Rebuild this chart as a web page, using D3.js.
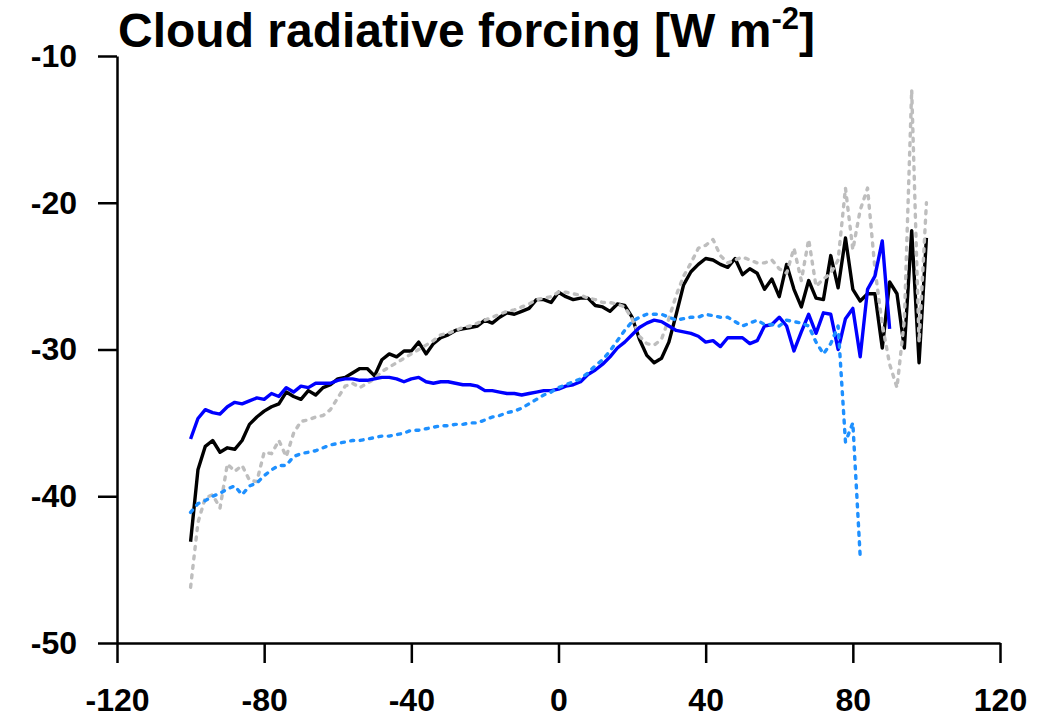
<!DOCTYPE html>
<html>
<head>
<meta charset="utf-8">
<script src="https://cdn.jsdelivr.net/npm/d3@7"></script>
<style>
  html, body { margin: 0; padding: 0; background: #fff; }
  svg { display: block; }
</style>
</head>
<body>
<svg id="chart" width="1045" height="717"></svg>
<script>
// ---- data ----
const xTicks = [-120, -80, -40, 0, 40, 80, 120];
const yTicks = [-50, -40, -30, -20, -10];

const latAll = d3.range(-100, 101, 2);          // -100 .. 100 step 2

const blackVals = [
  -43.1, -38.2, -36.6, -36.2, -37.0, -36.7, -36.8, -36.2, -35.1, -34.6,
  -34.2, -33.9, -33.7, -32.9, -33.2, -33.4, -32.8, -33.1, -32.6, -32.4,
  -32.0, -31.9, -31.6, -31.3, -31.3, -31.8, -30.7, -30.3, -30.5, -30.1,
  -30.1, -29.5, -30.3, -29.6, -29.2, -29.0, -28.7, -28.6, -28.5, -28.4,
  -28.0, -28.2, -27.8, -27.5, -27.6, -27.4, -27.2, -26.6, -26.6, -26.8,
  -26.1, -26.4, -26.6, -26.5, -26.5, -27.0, -27.1, -27.4, -26.9, -27.0,
  -27.8, -29.3, -30.4, -30.9, -30.6, -29.5, -27.6, -25.6, -24.7, -24.2,
  -23.8, -23.9, -24.2, -24.4, -23.8, -24.9, -24.5, -24.8, -25.9, -25.2,
  -26.4, -24.2, -25.9, -27.1, -25.3, -26.5, -26.6, -23.6, -25.8, -22.4,
  -25.9, -26.7, -26.2, -26.2, -29.9, -25.4, -26.2, -29.9, -21.9, -30.9,
  -22.4
];

const grayVals = [
  -46.2, -41.8, -40.1, -39.9, -40.8, -37.8, -38.3, -37.9, -38.9, -39.0,
  -37.0, -37.1, -36.2, -37.3, -35.7, -34.9, -34.8, -34.6, -34.5, -34.1,
  -33.3, -32.5, -32.3, -32.6, -32.3, -32.0, -31.5, -31.2, -30.9, -30.6,
  -30.3, -30.0, -29.7, -29.4, -29.0, -28.9, -28.7, -28.5, -28.4, -28.2,
  -28.0, -27.8, -27.6, -27.4, -27.3, -27.1, -26.9, -26.6, -26.5, -26.4,
  -26.1, -26.1, -26.2, -26.3, -26.5, -26.6, -26.8, -26.8, -26.9, -27.1,
  -27.9, -29.1, -29.6, -29.7, -29.3, -27.9, -26.3, -25.0, -24.1, -23.1,
  -22.9, -22.5, -23.6, -24.1, -23.9, -23.7, -23.9, -24.1, -24.1, -23.9,
  -24.5, -24.8, -23.1, -25.3, -22.5, -25.7, -25.2, -24.8, -23.9, -19.0,
  -23.2, -20.5, -19.0, -24.5, -28.3, -31.0, -32.6, -28.0, -12.3, -29.5,
  -20.0
];

const latBlue = d3.range(-100, 91, 2);          // -100 .. 90
const blueVals = [
  -36.1, -34.7, -34.1, -34.3, -34.4, -33.9, -33.6, -33.7, -33.5, -33.3,
  -33.4, -33.0, -33.2, -32.6, -32.9, -32.5, -32.6, -32.3, -32.3, -32.3,
  -32.1, -32.0, -32.0, -32.1, -32.1, -32.0, -31.9, -31.9, -32.0, -32.2,
  -32.0, -31.9, -32.2, -32.3, -32.2, -32.2, -32.3, -32.4, -32.4, -32.5,
  -32.8, -32.8, -32.9, -33.0, -33.0, -33.1, -33.0, -32.9, -32.8, -32.8,
  -32.7, -32.5, -32.4, -32.2, -31.7, -31.4, -31.0, -30.5, -29.9, -29.5,
  -29.0, -28.5, -28.2, -28.0, -28.1, -28.4, -28.7, -28.8, -28.9, -29.1,
  -29.5, -29.4, -29.8, -29.2, -29.2, -29.2, -29.6, -29.4, -28.4, -28.3,
  -27.8, -28.4, -30.1, -28.8, -27.6, -28.9, -27.5, -27.6, -30.0, -27.9,
  -27.2, -30.5, -25.9, -25.0, -22.6, -28.6
];

const latLight = d3.range(-100, 83, 2);         // -100 .. 82
const lightVals = [
  -41.1, -40.5, -40.3, -40.0, -39.8, -39.5, -39.3, -39.9, -39.3, -39.1,
  -38.6, -38.2, -37.9, -37.9, -37.3, -37.1, -37.0, -36.9, -36.7, -36.5,
  -36.4, -36.3, -36.2, -36.2, -36.1, -36.0, -35.9, -35.9, -35.8, -35.7,
  -35.5, -35.5, -35.4, -35.3, -35.2, -35.2, -35.1, -35.1, -35.0, -35.0,
  -34.8, -34.6, -34.5, -34.3, -34.2, -34.0, -33.7, -33.4, -33.1, -32.9,
  -32.6, -32.4, -32.2, -32.0, -31.6, -31.1, -30.7, -30.1, -29.4, -28.7,
  -28.1, -27.8, -27.6, -27.6, -27.6, -27.8, -28.0, -27.9, -27.8, -27.8,
  -27.6, -27.7, -27.8, -27.8, -28.1, -28.4, -28.2, -28.0, -28.3, -28.3,
  -28.4, -28.0, -28.1, -28.2, -28.4, -29.5, -30.3, -29.6, -28.4, -36.3,
  -35.0, -44.1
];

// ---- chart ----
const svg = d3.select("#chart");
const x = d3.scaleLinear().domain([-120, 120]).range([117, 1000]);
const y = d3.scaleLinear().domain([-50, -10]).range([643, 56]);
const FONT = "'Liberation Sans', Arial, Helvetica, sans-serif";

// axes
const fmt = d => String(d);
const xAxis = d3.axisBottom(x).tickValues(xTicks).tickSize(20).tickSizeOuter(0).tickPadding(25)
  .tickFormat(fmt);
const yAxis = d3.axisLeft(y).tickValues(yTicks).tickSize(19).tickSizeOuter(0).tickPadding(21)
  .tickFormat(fmt);

const gx = svg.append("g").attr("transform", `translate(0,${y(-50)})`).call(xAxis);
const gy = svg.append("g").attr("transform", `translate(${x(-120)},0)`).call(yAxis);

[gx, gy].forEach(g => {
  g.selectAll("path.domain").attr("stroke", "#000").attr("stroke-width", 2.5);
  g.selectAll(".tick line").attr("stroke", "#000").attr("stroke-width", 2.5);
  g.selectAll(".tick text")
    .attr("fill", "#000")
    .style("font-family", FONT)
    .style("font-weight", "bold")
    .style("font-size", "32px");
});

// lines
function series(lat, vals) { return lat.map((d, i) => ({ x: d, y: vals[i] })); }
const line = d3.line().x(d => x(d.x)).y(d => y(d.y));

const specs = [
  { data: series(latAll, blackVals), color: "#000000", dash: null },
  { data: series(latAll, grayVals), color: "#bebebe", dash: "3,6.5" },
  { data: series(latBlue, blueVals), color: "#0000ff", dash: null },
  { data: series(latLight, lightVals), color: "#1e90ff", dash: "3,6.5" }
];

specs.forEach(s => {
  svg.append("path")
    .datum(s.data)
    .attr("d", line)
    .attr("fill", "none")
    .attr("stroke", s.color)
    .attr("stroke-width", 3.4)
    .attr("stroke-linejoin", "round")
    .attr("stroke-linecap", s.dash ? "round" : "butt")
    .attr("stroke-dasharray", s.dash);
});

// title
const title = svg.append("text")
  .attr("x", 118)
  .attr("y", 47)
  .attr("fill", "#000")
  .style("font-family", FONT)
  .style("font-weight", "bold")
  .style("font-size", "48px");
title.append("tspan").text("Cloud radiative forcing [W m");
title.append("tspan").attr("dy", -18).style("font-size", "31px").text("-2");
title.append("tspan").attr("dy", 18).text("]");
</script>
</body>
</html>
